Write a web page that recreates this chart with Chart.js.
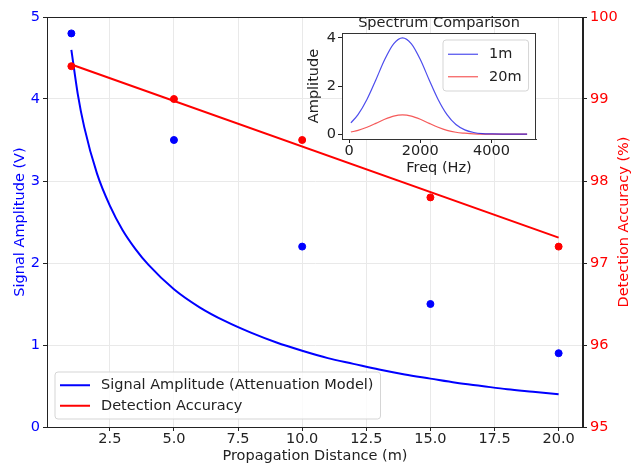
<!DOCTYPE html>
<html>
<head>
<meta charset="utf-8">
<script src="https://cdn.jsdelivr.net/npm/chart.js@4.4.1/dist/chart.umd.min.js"></script>
<style>
  html, body { margin: 0; padding: 0; background: #fff; }
  #wrap { position: relative; width: 631px; height: 467px; }
  #mainChart { position: absolute; left: 0; top: 0; }
  #insetChart { position: absolute; left: 290px; top: 0; }
</style>
</head>
<body>
<div id="wrap">
  <canvas id="mainChart" width="631" height="467"></canvas>
  <canvas id="insetChart" width="260" height="190"></canvas>
</div>
<script>
// measured points
const distances = [1, 5, 10, 15, 20];
const measuredAmp = [4.8, 3.5, 2.2, 1.5, 0.9];
const measuredAcc = [99.4, 99.0, 98.5, 97.8, 97.2];

// attenuation model curve
const modelDist = [1, 1.25, 1.5, 2, 2.5, 3, 3.5, 4, 5, 6, 7, 8, 9, 10, 11, 12, 13, 14, 15, 16, 17, 18, 19, 20];
const modelAmp = [4.60, 4.06, 3.66, 3.09, 2.70, 2.40, 2.17, 1.98, 1.68, 1.46, 1.29, 1.15, 1.03, 0.93, 0.84, 0.77, 0.70, 0.64, 0.59, 0.54, 0.50, 0.46, 0.43, 0.40];

// accuracy trend line
const fitDist = [1, 20];
const fitAcc = [99.42, 97.31];

// inset spectrum
const freqs = [50, 250, 500, 750, 1000, 1250, 1500, 1750, 2000, 2250, 2500, 2750, 3000, 3250, 3500, 3750, 4000, 4500, 5000];
const spec1m = [0.47, 0.81, 1.44, 2.25, 3.10, 3.75, 4.00, 3.75, 3.10, 2.25, 1.44, 0.81, 0.40, 0.18, 0.07, 0.02, 0.01, 0, 0];
const spec20m = [0.09, 0.16, 0.29, 0.45, 0.62, 0.75, 0.80, 0.75, 0.62, 0.45, 0.29, 0.16, 0.08, 0.04, 0.01, 0, 0, 0, 0];

// tick labels
const xTicks = [2.5, 5, 7.5, 10, 12.5, 15, 17.5, 20];
const ampTicks = [0, 1, 2, 3, 4, 5];
const accTicks = [95, 96, 97, 98, 99, 100];
const insetXTicks = [0, 2000, 4000];
const insetYTicks = [0, 2, 4];

const insetTitle = 'Spectrum Comparison';
const rightTitle = 'Detection Accuracy (%)';

const FONT = "'DejaVu Sans', sans-serif";
const FS = 14.5;
Chart.defaults.font.family = FONT;
Chart.defaults.font.size = FS;

const INK = '#222';
const GRID = '#e9e9e9';
const pts = (xs, ys) => xs.map((x, i) => ({ x: x, y: ys[i] }));
const fixTicks = arr => scale => { scale.ticks = arr.map(v => ({ value: v })); };

// draws a matplotlib style legend box
function drawLegend(ctx, x, y, items, rowGap, lineW) {
    ctx.save();
    ctx.font = FS + 'px ' + FONT;
    const textW = Math.max(...items.map(it => ctx.measureText(it.label).width));
    const padL = 5, lineLen = 30, gap = 11, padR = 7;
    const w = padL + lineLen + gap + textW + padR;
    const h = rowGap * items.length + 6;
    ctx.beginPath();
    ctx.roundRect(x, y, w, h, 3);
    ctx.fillStyle = 'rgba(255,255,255,0.8)';
    ctx.fill();
    ctx.strokeStyle = '#d5d5d5';
    ctx.lineWidth = 1;
    ctx.stroke();
    items.forEach((it, i) => {
        const cy = y + 3 + rowGap * (i + 0.5);
        ctx.beginPath();
        ctx.moveTo(x + padL, cy);
        ctx.lineTo(x + padL + lineLen, cy);
        ctx.strokeStyle = it.color;
        ctx.lineWidth = lineW;
        ctx.stroke();
        ctx.fillStyle = INK;
        ctx.textBaseline = 'middle';
        ctx.textAlign = 'left';
        ctx.fillText(it.label, x + padL + lineLen + gap, cy);
    });
    ctx.restore();
}

const mainPlugin = {
    id: 'mainDecor',
    afterDraw(chart) {
        const { ctx, chartArea: a } = chart;
        ctx.save();
        ctx.strokeStyle = INK;
        ctx.lineWidth = 1;
        ctx.strokeRect(a.left + 0.5, a.top + 0.5, a.right - a.left - 1, a.bottom - a.top);
        // right axis title, reading bottom to top
        ctx.translate(624, (a.top + a.bottom) / 2);
        ctx.rotate(-Math.PI / 2);
        ctx.font = FS + 'px ' + FONT;
        ctx.fillStyle = '#ff0000';
        ctx.textAlign = 'center';
        ctx.textBaseline = 'middle';
        ctx.fillText(rightTitle, 0, 0);
        ctx.restore();
        const items = chart.data.datasets
            .filter(d => d.showLine)
            .sort((p, q) => q.order - p.order)
            .map(d => ({ label: d.label, color: d.borderColor }));
        drawLegend(ctx, a.left + 8, a.bottom - 55, items, 20.5, 2);
    }
};

const mainChart = new Chart(document.getElementById('mainChart'), {
    type: 'scatter',
    data: {
        datasets: [
            {
                label: 'Detection Accuracy (measured)',
                data: pts(distances, measuredAcc),
                yAxisID: 'y2',
                backgroundColor: '#ff0000',
                borderColor: '#ff0000',
                pointRadius: 3.5,
                order: 0
            },
            {
                label: 'Detection Accuracy',
                data: pts(fitDist, fitAcc),
                yAxisID: 'y2',
                showLine: true,
                borderColor: '#ff0000',
                borderWidth: 2,
                pointRadius: 0,
                order: 1
            },
            {
                label: 'Signal Amplitude (measured)',
                data: pts(distances, measuredAmp),
                yAxisID: 'y',
                backgroundColor: '#0000ff',
                borderColor: '#0000ff',
                pointRadius: 3.5,
                order: 2
            },
            {
                label: 'Signal Amplitude (Attenuation Model)',
                data: pts(modelDist, modelAmp),
                yAxisID: 'y',
                showLine: true,
                borderColor: '#0000ff',
                borderWidth: 2,
                pointRadius: 0,
                cubicInterpolationMode: 'monotone',
                order: 3
            }
        ]
    },
    options: {
        responsive: false,
        animation: false,
        layout: { padding: { left: 0, right: 0, top: 17, bottom: 0 } },
        plugins: { legend: { display: false }, tooltip: { enabled: false } },
        scales: {
            x: {
                type: 'linear',
                min: 0.05,
                max: 20.95,
                afterBuildTicks: fixTicks(xTicks),
                afterFit: s => { s.height = 40; },
                ticks: { color: INK, padding: 0, maxRotation: 0, autoSkip: false, callback: v => v.toFixed(1) },
                grid: { color: GRID, tickColor: INK, tickLength: 4 },
                border: { color: INK },
                title: { display: true, text: 'Propagation Distance (m)', color: INK, padding: { top: 0, bottom: 2 } }
            },
            y: {
                position: 'left',
                min: 0,
                max: 5,
                afterBuildTicks: fixTicks(ampTicks),
                afterFit: s => { s.width = 47; },
                ticks: { color: '#0000ff', padding: 3 },
                grid: { color: GRID, tickColor: INK, tickLength: 4 },
                border: { color: INK },
                title: { display: true, text: 'Signal Amplitude (V)', color: '#0000ff', padding: { top: 12, bottom: 0 } }
            },
            y2: {
                position: 'right',
                min: 95,
                max: 100,
                afterBuildTicks: fixTicks(accTicks),
                afterFit: s => { s.width = 48; },
                ticks: { color: '#ff0000', padding: 3 },
                grid: { drawOnChartArea: false, tickColor: INK, tickLength: 4 },
                border: { color: INK },
                title: { display: false }
            }
        }
    },
    plugins: [mainPlugin]
});

const insetPlugin = {
    id: 'insetDecor',
    beforeDraw(chart) {
        const { ctx, chartArea: a } = chart;
        ctx.save();
        ctx.fillStyle = '#fff';
        ctx.fillRect(a.left, a.top, a.right - a.left, a.bottom - a.top);
        ctx.restore();
    },
    afterDraw(chart) {
        const { ctx, chartArea: a } = chart;
        ctx.save();
        ctx.strokeStyle = '#333';
        ctx.lineWidth = 1;
        ctx.strokeRect(a.left + 0.5, a.top + 0.5, a.right - a.left - 1, a.bottom - a.top);
        ctx.font = FS + 'px ' + FONT;
        ctx.fillStyle = INK;
        ctx.textAlign = 'center';
        ctx.textBaseline = 'middle';
        ctx.fillText(insetTitle, (a.left + a.right) / 2, a.top - 10);
        ctx.restore();
        const items = chart.data.datasets.map(d => ({ label: d.label, color: d.borderColor }));
        drawLegend(ctx, a.right - 93, a.top + 7, items, 22.5, 1.2);
    }
};

const insetChart = new Chart(document.getElementById('insetChart'), {
    type: 'scatter',
    data: {
        datasets: [
            {
                label: '1m',
                data: pts(freqs, spec1m),
                showLine: true,
                borderColor: 'rgba(0,0,230,0.7)',
                borderWidth: 1.2,
                pointRadius: 0,
                cubicInterpolationMode: 'monotone'
            },
            {
                label: '20m',
                data: pts(freqs, spec20m),
                showLine: true,
                borderColor: 'rgba(240,0,0,0.65)',
                borderWidth: 1.2,
                pointRadius: 0,
                cubicInterpolationMode: 'monotone'
            }
        ]
    },
    options: {
        responsive: false,
        animation: false,
        layout: { padding: { left: 0, right: 14, top: 33, bottom: 0 } },
        plugins: { legend: { display: false }, tooltip: { enabled: false } },
        scales: {
            x: {
                type: 'linear',
                min: -200,
                max: 5250,
                afterBuildTicks: fixTicks(insetXTicks),
                afterFit: s => { s.height = 51; },
                ticks: { color: INK, padding: 0, maxRotation: 0, autoSkip: false, callback: v => String(v) },
                grid: { drawOnChartArea: false, tickColor: INK, tickLength: 4 },
                border: { color: '#333' },
                title: { display: true, text: 'Freq (Hz)', color: INK, padding: { top: 0, bottom: 13 } }
            },
            y: {
                min: -0.2,
                max: 4.2,
                afterBuildTicks: fixTicks(insetYTicks),
                afterFit: s => { s.width = 52; },
                ticks: { color: INK, padding: 2 },
                grid: { drawOnChartArea: false, tickColor: INK, tickLength: 4 },
                border: { color: '#333' },
                title: { display: true, text: 'Amplitude', color: INK, padding: { top: 16, bottom: 0 } }
            }
        }
    },
    plugins: [insetPlugin]
});
</script>
</body>
</html>
